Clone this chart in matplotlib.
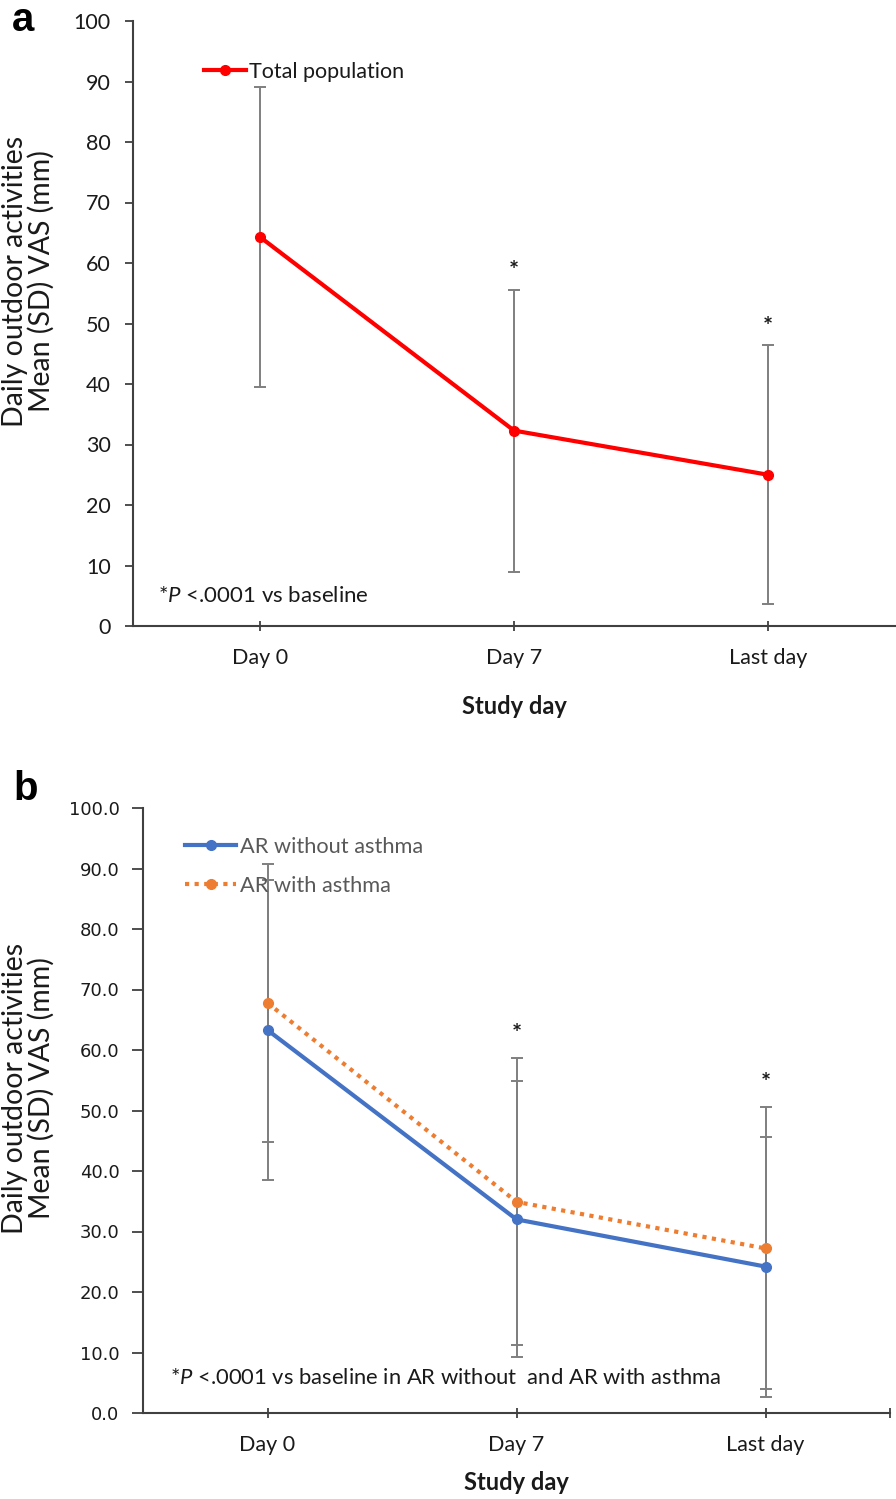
import numpy as np
import matplotlib
matplotlib.use("Agg")
import matplotlib.pyplot as plt

plt.rcParams['font.family'] = ['Lato', 'DejaVu Sans']
plt.rcParams['mathtext.fontset'] = 'custom'
plt.rcParams['mathtext.rm'] = 'Lato'
plt.rcParams['mathtext.it'] = 'Lato:italic'

# data
days = ["Day 0", "Day 7", "Last day"]
total_mean = [64.3, 32.3, 25.0]
total_sd = [24.8, 23.3, 21.4]
no_asthma_mean = [63.3, 32.0, 24.2]
no_asthma_sd = [24.8, 22.8, 21.5]
asthma_mean = [67.8, 34.9, 27.2]
asthma_sd = [23.0, 23.7, 23.3]
signif = [False, True, True]

RED = '#FF0000'
BLUE = '#4472C4'
ORANGE = '#ED7D31'
ERR = '#7F7F7F'
AXC = '#404040'
TXT = '#1A1A1A'

W, H = 896, 1499
fig = plt.figure(figsize=(W / 100, H / 100), dpi=100)


def px_axes(l, t, r, b):
    return fig.add_axes([l / W, 1 - b / H, (r - l) / W, (b - t) / H])


def style_axes(ax, fmt, tickfont, ticksize, xlabpad):
    ax.set_xlim(-0.5, 2.5)
    ax.set_ylim(0, 100)
    ax.set_yticks(np.arange(0, 101, 10))
    ax.set_yticklabels([fmt.format(v) for v in range(0, 101, 10)],
                       family=tickfont, fontsize=ticksize, color=TXT)
    ax.set_xticks(range(len(days)))
    ax.set_xticklabels(days, fontsize=15.5, color=TXT)
    for s in ['top', 'right']:
        ax.spines[s].set_visible(False)
    for s in ['left', 'bottom']:
        ax.spines[s].set_color(AXC)
        ax.spines[s].set_linewidth(1.5)
    ax.tick_params(axis='y', direction='out', length=6, width=1.3, color=AXC, pad=10)
    ax.tick_params(axis='x', direction='inout', length=7, width=1.3, color=AXC, pad=12)
    ax.set_xlabel("Study day", fontsize=17, fontweight='bold', color=TXT,
                  labelpad=xlabpad)


x = np.arange(len(days))

# ---- panel a
ax1 = px_axes(133, 21, 895, 626)
style_axes(ax1, "{:d}", 'Lato', 15.5, 20)
ax1.errorbar(x, total_mean, yerr=total_sd, fmt='none', ecolor=ERR,
             elinewidth=1.4, capsize=4, capthick=1.4, zorder=2)
ax1.plot(x, total_mean, color=RED, lw=3, marker='o', ms=7, zorder=3,
         label="Total population")
for xi, m, s, sig in zip(x, total_mean, total_sd, signif):
    if sig:
        ax1.text(xi, m + s + 3.0, "*", ha='center', va='center', fontsize=17,
                 fontweight='bold', color=TXT)
ax1.legend(loc='upper left', bbox_to_anchor=(0.068, 0.965), frameon=False,
           fontsize=15.5, handlelength=1.95, handletextpad=0.15, labelcolor=TXT)
ax1.text(0.033, 0.05, r"*$\it{P}$ <.0001 vs baseline", transform=ax1.transAxes,
         fontsize=16, color=TXT, va='center')

# ---- panel b
ax2 = px_axes(143, 808, 890, 1413)
style_axes(ax2, "{:.1f}", 'DejaVu Sans', 13, 12)
ax2.set_xticks([2.5], minor=True)
ax2.tick_params(axis='x', which='minor', direction='inout', length=7, width=1.3, color=AXC)
ax2.tick_params(axis='y', length=8, pad=9)
ax2.errorbar(x, no_asthma_mean, yerr=no_asthma_sd, fmt='none', ecolor=ERR,
             elinewidth=1.4, capsize=4, capthick=1.4, zorder=2)
ax2.errorbar(x, asthma_mean, yerr=asthma_sd, fmt='none', ecolor=ERR,
             elinewidth=1.4, capsize=4, capthick=1.4, zorder=2)
ax2.plot(x, no_asthma_mean, color=BLUE, lw=3, marker='o', ms=7, zorder=3,
         label="AR without asthma")
ax2.plot(x, asthma_mean, color=ORANGE, lw=3, ls=(0, (1, 1.3)), marker='o', ms=7,
         zorder=3, label="AR with asthma")
for xi, m1, s1, m2, s2, sig in zip(x, no_asthma_mean, no_asthma_sd,
                                   asthma_mean, asthma_sd, signif):
    if sig:
        ax2.text(xi, max(m1 + s1, m2 + s2) + 3.9, "*", ha='center', va='center',
                 fontsize=17, fontweight='bold', color=TXT)
ax2.legend(loc='upper left', bbox_to_anchor=(0.03, 0.985), frameon=False,
           fontsize=15.7, handlelength=2.35, handletextpad=0.15, labelcolor='#595959',
           labelspacing=0.87)
ax2.text(0.036, 0.058, r"*$\it{P}$ <.0001 vs baseline in AR without  and AR with asthma",
         transform=ax2.transAxes, fontsize=15.8, color=TXT, va='center')

# y labels and panel letters
for yc in [281, 1088]:
    fig.text(28 / W, 1 - yc / H, "Daily outdoor activities\nMean (SD) VAS (mm)",
             rotation=90, ha='center', va='center', fontsize=20.5, color=TXT,
             linespacing=1.0)
fig.text(12 / W, 1 - 1 / H, "a", fontsize=29, fontweight='bold', va='top',
         family='Liberation Sans')
fig.text(13 / W, 1 - 770 / H, "b", fontsize=29, fontweight='bold', va='top',
         family='Liberation Sans')

fig.savefig("out.png", dpi=100)
